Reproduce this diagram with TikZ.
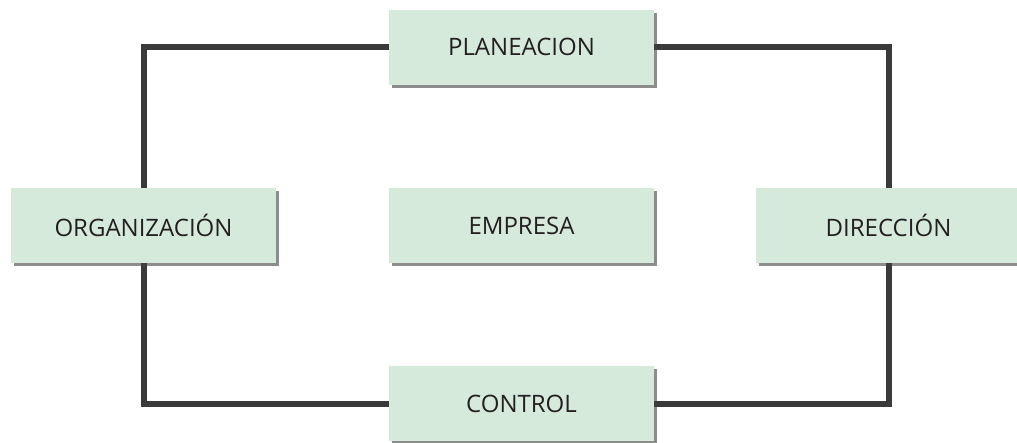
\documentclass[tikz,border=0pt]{standalone}
\usepackage{fontspec}
\setmainfont{Open Sans}
\usetikzlibrary{shadows,backgrounds}
\definecolor{boxfill}{HTML}{D6EADC}
\definecolor{linec}{HTML}{3A3A3A}
\definecolor{txt}{HTML}{231F20}
\tikzset{
  box/.style={rectangle, fill=boxfill, minimum width=265pt, minimum height=75pt,
    inner sep=0pt, text=txt, font=\fontsize{24}{28}\selectfont,
    drop shadow={shadow xshift=3pt, shadow yshift=-3pt, opacity=0.6, fill=black!75}},
  link/.style={draw=linec, line width=6pt, line join=miter}
}
\begin{document}
\begin{tikzpicture}[x=1pt,y=-1pt]
\useasboundingbox (0,0) rectangle (1017,442);
\node[box] (plan) at (521.5,47) {PLANEACION};
\node[box] (emp) at (521.5,225.5) {EMPRESA};
\node[box] (org) at (143.5,225.5) {ORGANIZACIÓN};
\node[box] (dir) at (888.5,225.5) {DIRECCIÓN};
\node[box] (ctrl) at (521.5,403.5) {CONTROL};
\begin{pgfonlayer}{background}
\draw[link] (plan.west) -| (org.north);
\draw[link] (plan.east) -| (dir.north);
\draw[link] (org.south) |- (ctrl.west);
\draw[link] (dir.south) |- (ctrl.east);
\end{pgfonlayer}
\end{tikzpicture}
\end{document}
